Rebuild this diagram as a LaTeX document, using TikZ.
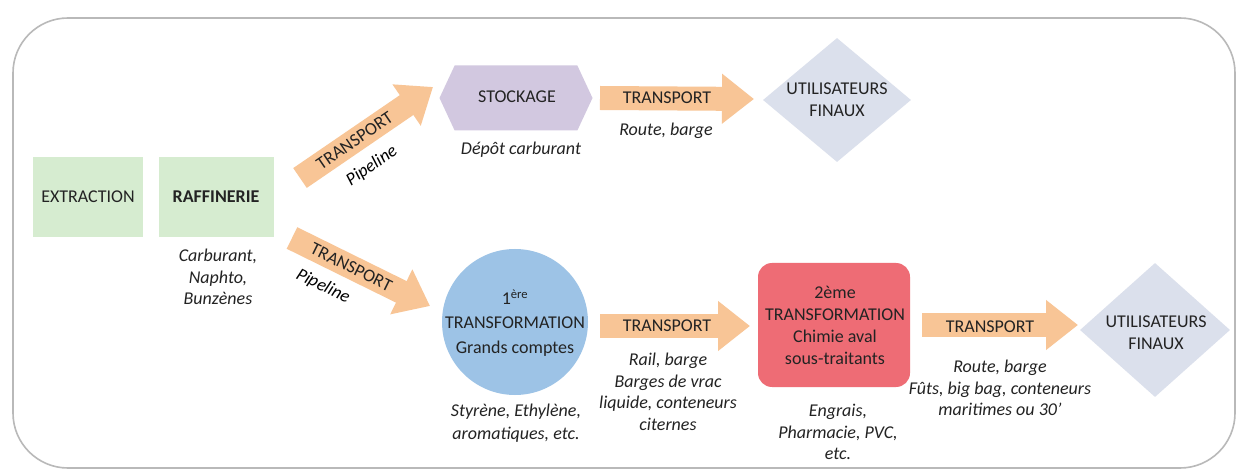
\documentclass[tikz,border=0pt]{standalone}
\usepackage{fontspec}
\setmainfont{Carlito}
\usetikzlibrary{shapes.geometric,shapes.symbols,arrows.meta}
\definecolor{textc}{RGB}{35,35,35}
\definecolor{greenc}{RGB}{214,236,208}
\definecolor{purplec}{RGB}{210,200,224}
\definecolor{bluec}{RGB}{157,195,230}
\definecolor{redc}{RGB}{238,108,117}
\definecolor{diamc}{RGB}{219,224,236}
\definecolor{arrowc}{RGB}{248,197,150}
\definecolor{framec}{RGB}{185,185,185}
\begin{document}
\begin{tikzpicture}[x=1pt,y=-1pt,
  txt/.style={font=\fontsize{18}{22}\selectfont, text=textc, align=center, inner sep=0pt},
  itxt/.style={font=\fontsize{18}{21.5}\selectfont\itshape, text=textc, align=center, inner sep=0pt},
  greenbox/.style={fill=greenc, minimum height=80pt, inner sep=0pt},
  diam/.style={diamond, fill=diamc, inner sep=0pt},
  blockarrow/.style={draw=arrowc, line width=24pt, -{Triangle[length=32pt,width=48pt]}},
]
\useasboundingbox (0,0) rectangle (1237,470);
\fill[white] (0,0) rectangle (1237,470);
% frame
\draw[framec, line width=1.6pt, rounded corners=55pt] (13,18) rectangle (1235,468);

% green boxes
\node[greenbox, minimum width=110pt] (ext) at (88,197) {};
\node[txt] (extt) at (ext) {EXTRACTION};
\node[greenbox, minimum width=115pt] (raf) at (216,197) {};
\node[txt, font=\fontsize{18}{22}\selectfont\bfseries] (raft) at (raf) {RAFFINERIE};
\node[itxt] (rafp) at (218,277) {Carburant,\\Naphto,\\Bunzènes};

% diagonal arrows
\coordinate (a1s) at (300,178);
\coordinate (a1e) at (433,87);
\draw[blockarrow] (a1s) -- (a1e)
  node[pos=0.41, sloped, txt] (a1t) {TRANSPORT}
  node[pos=0.41, sloped, below=11pt, itxt, text=black] (a1p) {Pipeline};
\coordinate (a2s) at (292,238);
\coordinate (a2e) at (430,306);
\draw[blockarrow] (a2s) -- (a2e)
  node[pos=0.43, sloped, txt] (a2t) {TRANSPORT}
  node[pos=0.32, sloped, below=10pt, itxt, text=black] (a2p) {Pipeline};

% top branch
\node[signal, signal to=west and east, signal pointer angle=130, fill=purplec,
      minimum width=153pt, minimum height=65pt, inner sep=0pt] (stock) at (516,98) {};
\node[txt] (stockt) at (517,97) {STOCKAGE};
\node[itxt] (stockp) at (521,150) {Dépôt carburant};

\coordinate (a3s) at (600,98);
\coordinate (a3e) at (754,99);
\draw[blockarrow] (a3s) -- (a3e);
\node[txt] (a3t) at (667,98) {TRANSPORT};
\node[itxt] (a3p) at (666,131) {Route, barge};

\node[diam, minimum width=148pt, minimum height=124pt] (uf1) at (837,100) {};
\node[txt] (uf1t) at (837,100) {UTILISATEURS\\FINAUX};

% bottom branch
\node[circle, fill=bluec, minimum size=146pt, inner sep=0pt] (tr1) at (515,322) {};
\node[txt, font=\fontsize{18}{24.5}\selectfont] (tr1t) at (515,323) {1\textsuperscript{ère}\\TRANSFORMATION\\Grands comptes};
\node[itxt, font=\fontsize{18}{23}\selectfont\itshape] (tr1p) at (516,423) {Styrène, Ethylène,\\aromatiques, etc.};

\coordinate (a4s) at (600,326);
\coordinate (a4e) at (750,326);
\draw[blockarrow] (a4s) -- (a4e);
\node[txt] (a4t) at (667,326) {TRANSPORT};
\node[itxt] (a4p) at (668,392) {Rail, barge\\Barges de vrac\\liquide, conteneurs\\citernes};

\node[rectangle, rounded corners=14pt, fill=redc, minimum width=152pt, minimum height=124pt] (tr2) at (834,325) {};
\node[txt] (tr2t) at (835,325) {2ème\\TRANSFORMATION\\Chimie aval\\sous-traitants};
\node[itxt] (tr2p) at (838,432) {Engrais,\\Pharmacie, PVC,\\etc.};

\coordinate (a5s) at (922,325);
\coordinate (a5e) at (1078,325);
\draw[blockarrow] (a5s) -- (a5e);
\node[txt] (a5t) at (990,327) {TRANSPORT};
\node[itxt] (a5p) at (1000,388) {Route, barge\\Fûts, big bag, conteneurs\\maritimes ou 30’};

\node[diam, minimum width=150pt, minimum height=134pt] (uf2) at (1155,330) {};
\node[txt] (uf2t) at (1156,333) {UTILISATEURS\\FINAUX};
\end{tikzpicture}
\end{document}
